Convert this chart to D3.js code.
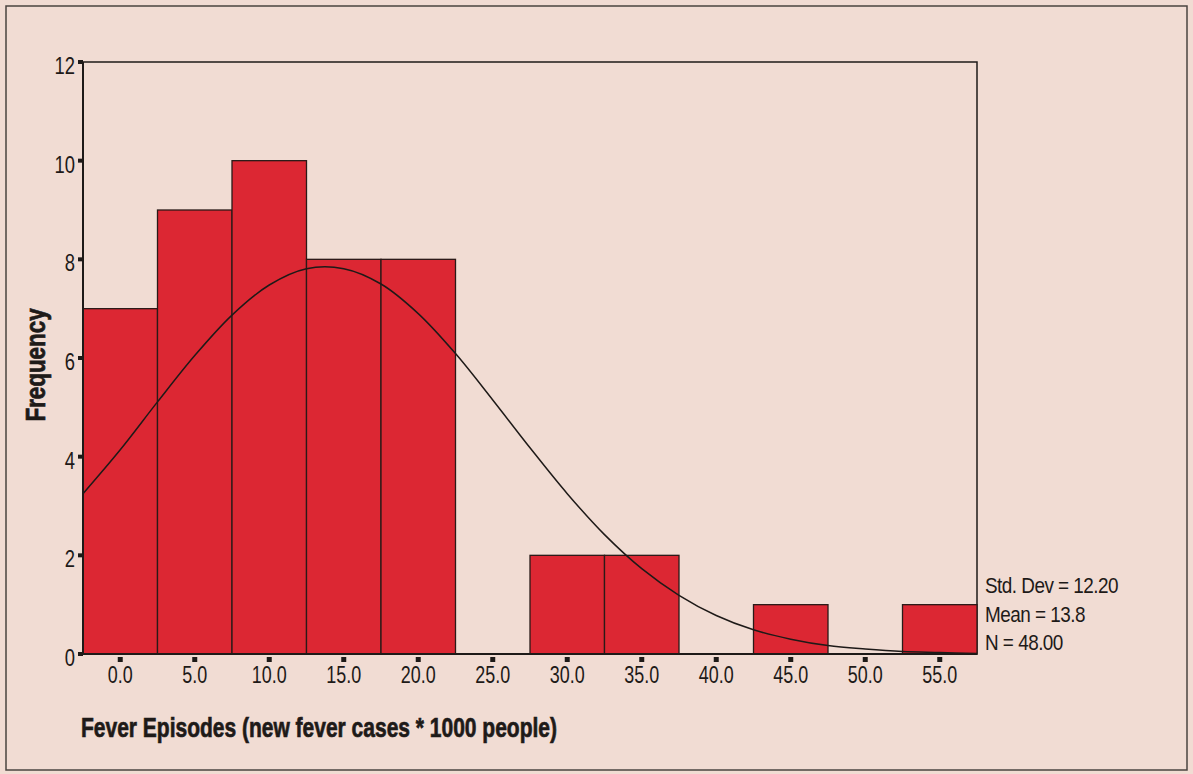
<!DOCTYPE html>
<html><head><meta charset="utf-8">
<script src="https://cdn.jsdelivr.net/npm/d3@7"></script>
<style>
html,body{margin:0;padding:0;background:#f1dcd3;}
svg{display:block;}
text{font-family:"Liberation Sans",Arial,sans-serif;fill:#1e1a18;}
</style></head><body>
<svg id="c" width="1193" height="774"></svg>
<script>
// Histogram bins (centers) and frequencies
const binCenters = [0, 5, 10, 15, 20, 25, 30, 35, 40, 45, 50, 55];
const frequencies = [7, 9, 10, 8, 8, 0, 2, 2, 0, 1, 0, 1];
const binWidth = 5;
// Fitted normal curve
const curveX = [-2.5, 0, 2.5, 5, 7.5, 10, 12.5, 15, 17.5, 20, 22.5, 25, 27.5, 30, 32.5, 35, 37.5, 40, 42.5, 45, 47.5, 50, 52.5, 55, 57.5];
const curveY = [3.25, 4.14, 5.11, 6.05, 6.87, 7.48, 7.81, 7.81, 7.50, 6.90, 6.09, 5.15, 4.18, 3.25, 2.42, 1.73, 1.19, 0.78, 0.49, 0.30, 0.17, 0.10, 0.05, 0.03, 0.01];
const xTicks = [0, 5, 10, 15, 20, 25, 30, 35, 40, 45, 50, 55];
const yTicks = [0, 2, 4, 6, 8, 10, 12];
const statsLines = ["Std. Dev = 12.20", "Mean = 13.8", "N = 48.00"];

const svg = d3.select("#c");
const L = 83, R = 977, T = 62, B = 654;
const x = d3.scaleLinear().domain([-2.5, 57.5]).range([L, R]);
const y = d3.scaleLinear().domain([0, 12]).range([B, T]);

// outer frame
svg.append("rect").attr("x", 6).attr("y", 6).attr("width", 1181).attr("height", 764)
  .attr("fill", "none").attr("stroke", "#4a4440").attr("stroke-width", 1.5);

// plot frame
svg.append("rect").attr("x", L).attr("y", T).attr("width", R - L).attr("height", B - T)
  .attr("fill", "none").attr("stroke", "#1e1a18").attr("stroke-width", 1.5);

// bars
svg.append("g").selectAll("rect").data(binCenters.map((c, i) => ({c, v: frequencies[i]})).filter(d => d.v > 0))
  .join("rect")
  .attr("x", d => x(d.c - binWidth / 2))
  .attr("y", d => y(d.v))
  .attr("width", d => x(d.c + binWidth / 2) - x(d.c - binWidth / 2))
  .attr("height", d => y(0) - y(d.v))
  .attr("fill", "#dc2733").attr("stroke", "#2a1a18").attr("stroke-width", 1.3);

// baseline and left axis
svg.append("line").attr("x1", L).attr("x2", R).attr("y1", B).attr("y2", B)
  .attr("stroke", "#1e1a18").attr("stroke-width", 2);
svg.append("line").attr("x1", L).attr("x2", L).attr("y1", T).attr("y2", B)
  .attr("stroke", "#1e1a18").attr("stroke-width", 2);

// normal curve
const line = d3.line().x((d, i) => x(curveX[i])).y(d => y(d)).curve(d3.curveCatmullRom);
svg.append("path").datum(curveY).attr("d", line)
  .attr("fill", "none").attr("stroke", "#1e1a18").attr("stroke-width", 1.5);

// y axis ticks
const yg = svg.append("g");
yg.selectAll("rect").data(yTicks).join("rect")
  .attr("x", L - 5).attr("y", d => y(d) - 2).attr("width", 5).attr("height", 4).attr("fill", "#1e1a18");
yg.selectAll("text").data(yTicks).join("text")
  .attr("transform", d => `translate(${L - 8},${y(d) + 12}) scale(0.8,1)`)
  .attr("text-anchor", "end")
  .style("font-size", "23px").text(d => d);

// x axis ticks
const xg = svg.append("g");
xg.selectAll("rect").data(xTicks).join("rect")
  .attr("x", d => x(d) - 2.5).attr("y", B + 3).attr("width", 5).attr("height", 5).attr("fill", "#1e1a18");
xg.selectAll("text").data(xTicks).join("text")
  .attr("transform", d => `translate(${x(d)},683) scale(0.78,1)`)
  .attr("text-anchor", "middle")
  .style("font-size", "23px").text(d => d.toFixed(1));

// axis titles
svg.append("text").attr("transform", `translate(45,365) rotate(-90) scale(0.8,1)`)
  .attr("text-anchor", "middle").style("font-size", "28px").style("font-weight", "bold")
  .style("stroke", "#1e1a18").style("stroke-width", "0.7px")
  .text("Frequency");
svg.append("text").attr("transform", "translate(81,737) scale(0.75,1)")
  .style("font-size", "28px").style("font-weight", "bold")
  .style("stroke", "#1e1a18").style("stroke-width", "0.7px")
  .text("Fever Episodes (new fever cases * 1000 people)");

// stats
const statsY = [593, 622, 650];
svg.append("g").selectAll("text").data(statsLines).join("text")
  .attr("transform", (d, i) => `translate(985,${statsY[i]}) scale(0.86,1)`)
  .style("font-size", "22px").style("letter-spacing", "-0.6px").text(d => d);
</script>
</body></html>
